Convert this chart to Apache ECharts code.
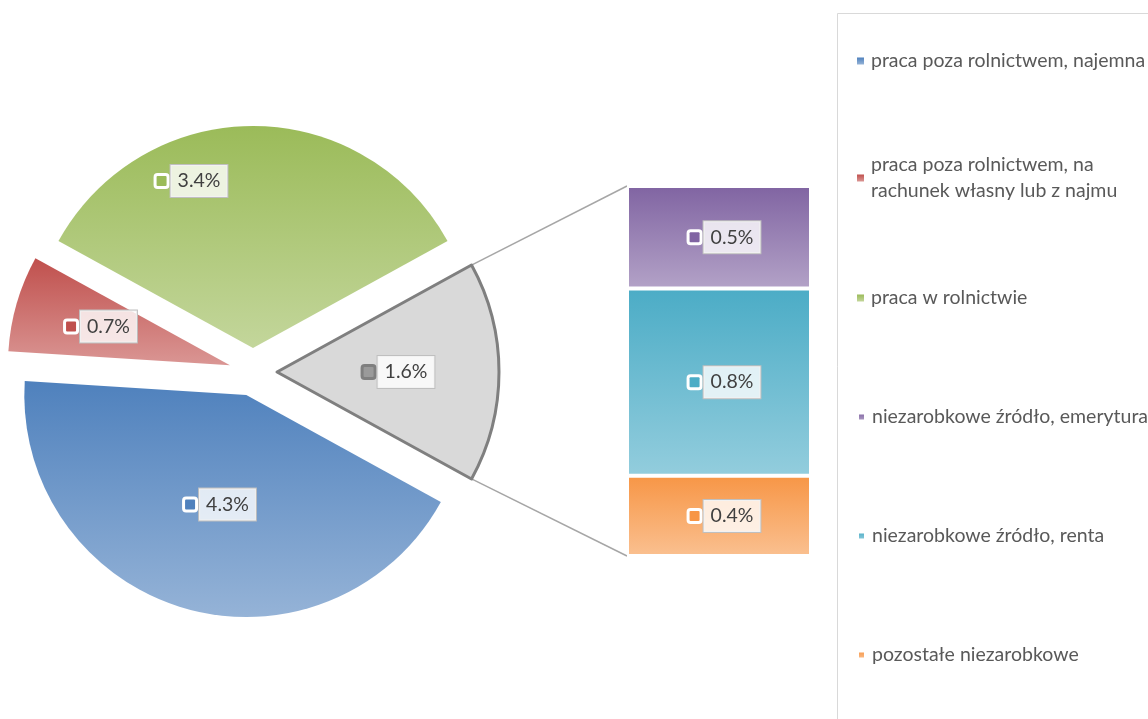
<!DOCTYPE html>
<html>
<head>
<meta charset="utf-8">
<script src="https://cdn.jsdelivr.net/npm/echarts@6/dist/echarts.min.js"></script>
<style>
html,body{margin:0;padding:0;background:#fff;}
#main{width:1148px;height:719px;}
</style>
</head>
<body>
<div id="main"></div>
<script>
// ---- data ----
const pieNames = ['praca poza rolnictwem, najemna', 'praca poza rolnictwem, na\nrachunek własny lub z najmu', 'praca w rolnictwie'];
const pieValues = [4.3, 0.7, 3.4];
const otherName = 'niezarobkowe';
const otherValue = 1.6;
const barNames = ['niezarobkowe źródło, emerytura', 'niezarobkowe źródło, renta', 'pozostałe niezarobkowe'];
const barValues = [0.46, 0.84, 0.36];

// ---- styles ----
const pieTop = ['#4f81bd', '#c0504d', '#9bbb59'];
const pieBottom = ['#95b3d7', '#da9694', '#c3d69b'];
const barTop = ['#8064a2', '#4bacc6', '#f79646'];
const barBottom = ['#b3a2c7', '#93cddd', '#fac090'];
const FONT = 'Lato';
const PIE_CX = 253, PIE_CY = 372, PIE_R = 222, EXPLODE = 24;
const pieLabelShift = [[6, 0], [-19, -7], [-61, -53], [8, 0]];
const GRID = {left: 627, top: 186, width: 184, height: 370};
const legendCenters = [61, 178, 298, 417, 536, 655];

function grad(a, b) {
  return new echarts.graphic.LinearGradient(0, 0, 0, 1, [{offset: 0, color: a}, {offset: 1, color: b}]);
}
function richFor(iconFill, iconBorder) {
  return {
    icon: {width: 10, height: 10, backgroundColor: iconFill, borderColor: iconBorder, borderWidth: 3, borderRadius: 1},
    gap: {width: 4},
    box: {fontFamily: FONT, fontSize: 19.5, color: '#404040', lineHeight: 22,
          backgroundColor: 'rgba(255,255,255,0.8)', borderColor: '#bfbfbf', borderWidth: 1, padding: [6, 7, 6, 7]}
  };
}
const fmt = v => (Math.round(v * 10) / 10).toFixed(1) + '%';

const total = pieValues.reduce((a, b) => a + b, 0) + otherValue;
const startAngle = -otherValue / total * 180;

const pieData = pieValues.map((v, i) => ({
  name: pieNames[i], value: v, selected: true,
  itemStyle: {color: grad(pieTop[i], pieBottom[i])},
  label: {rich: richFor(pieTop[i], '#ffffff')}
}));
pieData.push({
  name: otherName, value: otherValue, selected: true,
  itemStyle: {color: '#d9d9d9', borderColor: '#7f7f7f', borderWidth: 3},
  label: {rich: richFor('#9a9a9a', '#7f7f7f')}
});

// bar stack: bottom first
const stackOrder = [2, 1, 0];
const barSeries = stackOrder.map(i => ({
  type: 'bar', name: barNames[i], stack: 'o', data: [barValues[i]],
  barWidth: '100%',
  itemStyle: {color: grad(barTop[i], barBottom[i]), borderColor: '#ffffff', borderWidth: 2},
  label: {show: true, position: 'inside', offset: [6, 0],
          formatter: p => '{icon|}{gap|}{box|' + fmt(p.value) + '}',
          rich: richFor(barTop[i], '#ffffff')},
  emphasis: {disabled: true}
}));

const legendItems = pieNames.concat(barNames);
const legendColors = pieTop.concat(barTop);
const legendBottoms = pieBottom.concat(barBottom);
const legends = legendItems.map((n, i) => {
  const two = n.indexOf('\n') >= 0;
  const lh = two ? 26 : 22;
  return {
    data: [{name: n, itemStyle: {color: grad(legendColors[i], legendBottoms[i])}}],
    left: 857, top: legendCenters[i] - (two ? (lh * 3) / 2 : lh / 2),
    orient: 'vertical', padding: 0, itemWidth: 7, itemHeight: 7, icon: 'rect',
    selectedMode: false,
    textStyle: {fontFamily: FONT, fontSize: 19.5, color: '#595959', lineHeight: lh,
                padding: two ? [lh, 0, 0, 2] : [0, 0, 0, 2]}
  };
});

const chart = echarts.init(document.getElementById('main'), null, {renderer: 'canvas'});
const option = {
  animation: false,
  backgroundColor: '#ffffff',
  legend: legends,
  grid: {left: GRID.left, top: GRID.top, width: GRID.width, height: GRID.height},
  xAxis: {type: 'category', data: [''], show: false},
  yAxis: {type: 'value', min: 0, max: barValues.reduce((a, b) => a + b, 0), show: false},
  series: [{
    type: 'pie', name: 'main', center: [PIE_CX, PIE_CY], radius: [0, PIE_R],
    startAngle: startAngle, clockwise: true,
    selectedMode: 'multiple', selectedOffset: EXPLODE,
    data: pieData,
    label: {show: true, position: 'inside', formatter: p => '{icon|}{gap|}{box|' + fmt(p.value) + '}'},
    labelLine: {show: false},
    labelLayout: p => ({dx: pieLabelShift[p.dataIndex][0], dy: pieLabelShift[p.dataIndex][1]}),
    emphasis: {disabled: true},
    select: {itemStyle: {}}
  }].concat(barSeries),
  graphic: [{
    type: 'rect', shape: {x: 837.5, y: 13.5, width: 400, height: 800},
    style: {fill: 'none', stroke: '#d9d9d9', lineWidth: 1}, silent: true, z: -1
  }]
};
chart.setOption(option);

// connector lines from exploded "other" slice to the bar
const half = otherValue / total * Math.PI;
const ax = PIE_CX + EXPLODE, ay = PIE_CY;
const p1 = [ax + PIE_R * Math.cos(half), ay - PIE_R * Math.sin(half)];
const p2 = [ax + PIE_R * Math.cos(half), ay + PIE_R * Math.sin(half)];
const yTop = chart.convertToPixel({yAxisIndex: 0}, barValues.reduce((a, b) => a + b, 0));
const yBot = chart.convertToPixel({yAxisIndex: 0}, 0);
chart.setOption({
  graphic: [
    option.graphic[0],
    {type: 'line', shape: {x1: p1[0], y1: p1[1], x2: GRID.left, y2: yTop}, style: {stroke: '#a6a6a6', lineWidth: 1.5}, silent: true},
    {type: 'line', shape: {x1: p2[0], y1: p2[1], x2: GRID.left, y2: yBot}, style: {stroke: '#a6a6a6', lineWidth: 1.5}, silent: true}
  ]
});
</script>
</body>
</html>
